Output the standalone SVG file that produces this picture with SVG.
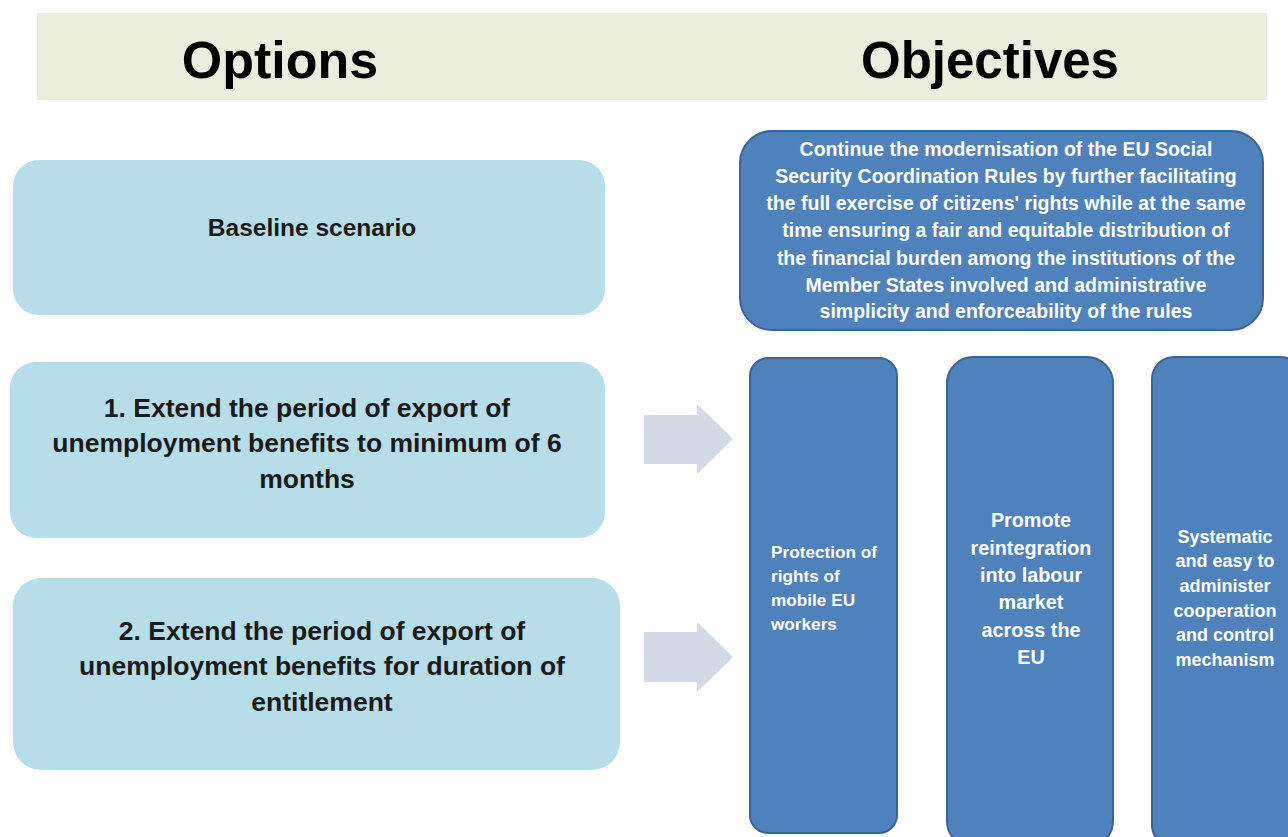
<svg xmlns="http://www.w3.org/2000/svg" width="1288" height="837" viewBox="0 0 1288 837">
<style>
.opt{fill:#b7dde8}
.obj{fill:#4f81bd;stroke:#3b6393;stroke-width:2}
.arr{fill:#d3dae6}
.h{font-family:"Liberation Sans",Arial,sans-serif;font-weight:bold;fill:#000;text-anchor:middle}
.t{font-family:"Liberation Sans",Arial,sans-serif;font-weight:bold;fill:#1a1a1a;text-anchor:middle}
.w{font-family:"Liberation Sans",Arial,sans-serif;font-weight:bold;fill:#fff;text-anchor:middle}
</style>
<rect width="1288" height="837" fill="#fff"/>
<g id="header">
<rect x="37" y="13" width="1230" height="87" fill="#ebeedd"/>
<text class="h" x="280" y="78" font-size="52">Options</text>
<text class="h" x="990" y="78" font-size="51">Objectives</text>
</g>
<g id="baseline">
<rect class="opt" x="13" y="160" width="592" height="155" rx="26"/>
<text class="t" x="312" y="236" font-size="24.5">Baseline scenario</text>
</g>
<g id="option1">
<rect class="opt" x="10" y="362" width="595" height="176" rx="26"/>
<text class="t" x="307" y="417" font-size="26.5">1. Extend the period of export of</text>
<text class="t" x="307" y="452" font-size="26.5">unemployment benefits to minimum of 6</text>
<text class="t" x="307" y="488" font-size="26.5">months</text>
</g>
<g id="option2">
<rect class="opt" x="13" y="578" width="607" height="192" rx="28"/>
<text class="t" x="322" y="640" font-size="26.5">2. Extend the period of export of</text>
<text class="t" x="322" y="675" font-size="26.5">unemployment benefits for duration of</text>
<text class="t" x="322" y="711" font-size="26.5">entitlement</text>
</g>
<g id="connectors">
<polygon class="arr" points="644,415 697,415 697,404 733,439 697,474 697,464 644,464"/>
<polygon class="arr" points="644,632 697,632 697,622 733,657 697,692 697,682 644,682"/>
</g>
<g id="goal">
<rect class="obj" x="740" y="131" width="523" height="199" rx="32"/>
<g class="w" font-size="19.5">
<text x="1006" y="156">Continue the modernisation of the EU Social</text>
<text x="1006" y="183">Security Coordination Rules by further facilitating</text>
<text x="1006" y="210">the full exercise of citizens' rights while at the same</text>
<text x="1006" y="237">time ensuring a fair and equitable distribution of</text>
<text x="1006" y="265">the financial burden among the institutions of the</text>
<text x="1006" y="292">Member States involved and administrative</text>
<text x="1006" y="318">simplicity and enforceability of the rules</text>
</g>
</g>
<g id="objective1">
<rect class="obj" x="750" y="358" width="147" height="475" rx="18"/>
<g class="w" font-size="17.2" style="text-anchor:start">
<text x="771" y="558">Protection of</text>
<text x="771" y="582">rights of</text>
<text x="771" y="606">mobile EU</text>
<text x="771" y="630">workers</text>
</g>
</g>
<g id="objective2">
<rect class="obj" x="947" y="357" width="166" height="490" rx="26"/>
<g class="w" font-size="19.8">
<text x="1031" y="527">Promote</text>
<text x="1031" y="555">reintegration</text>
<text x="1031" y="582">into labour</text>
<text x="1031" y="609">market</text>
<text x="1031" y="637">across the</text>
<text x="1031" y="664">EU</text>
</g>
</g>
<g id="objective3">
<rect class="obj" x="1152" y="357" width="150" height="490" rx="22"/>
<g class="w" font-size="18">
<text x="1225" y="543">Systematic</text>
<text x="1225" y="567">and easy to</text>
<text x="1225" y="592">administer</text>
<text x="1225" y="617">cooperation</text>
<text x="1225" y="641">and control</text>
<text x="1225" y="666">mechanism</text>
</g>
</g>
</svg>
